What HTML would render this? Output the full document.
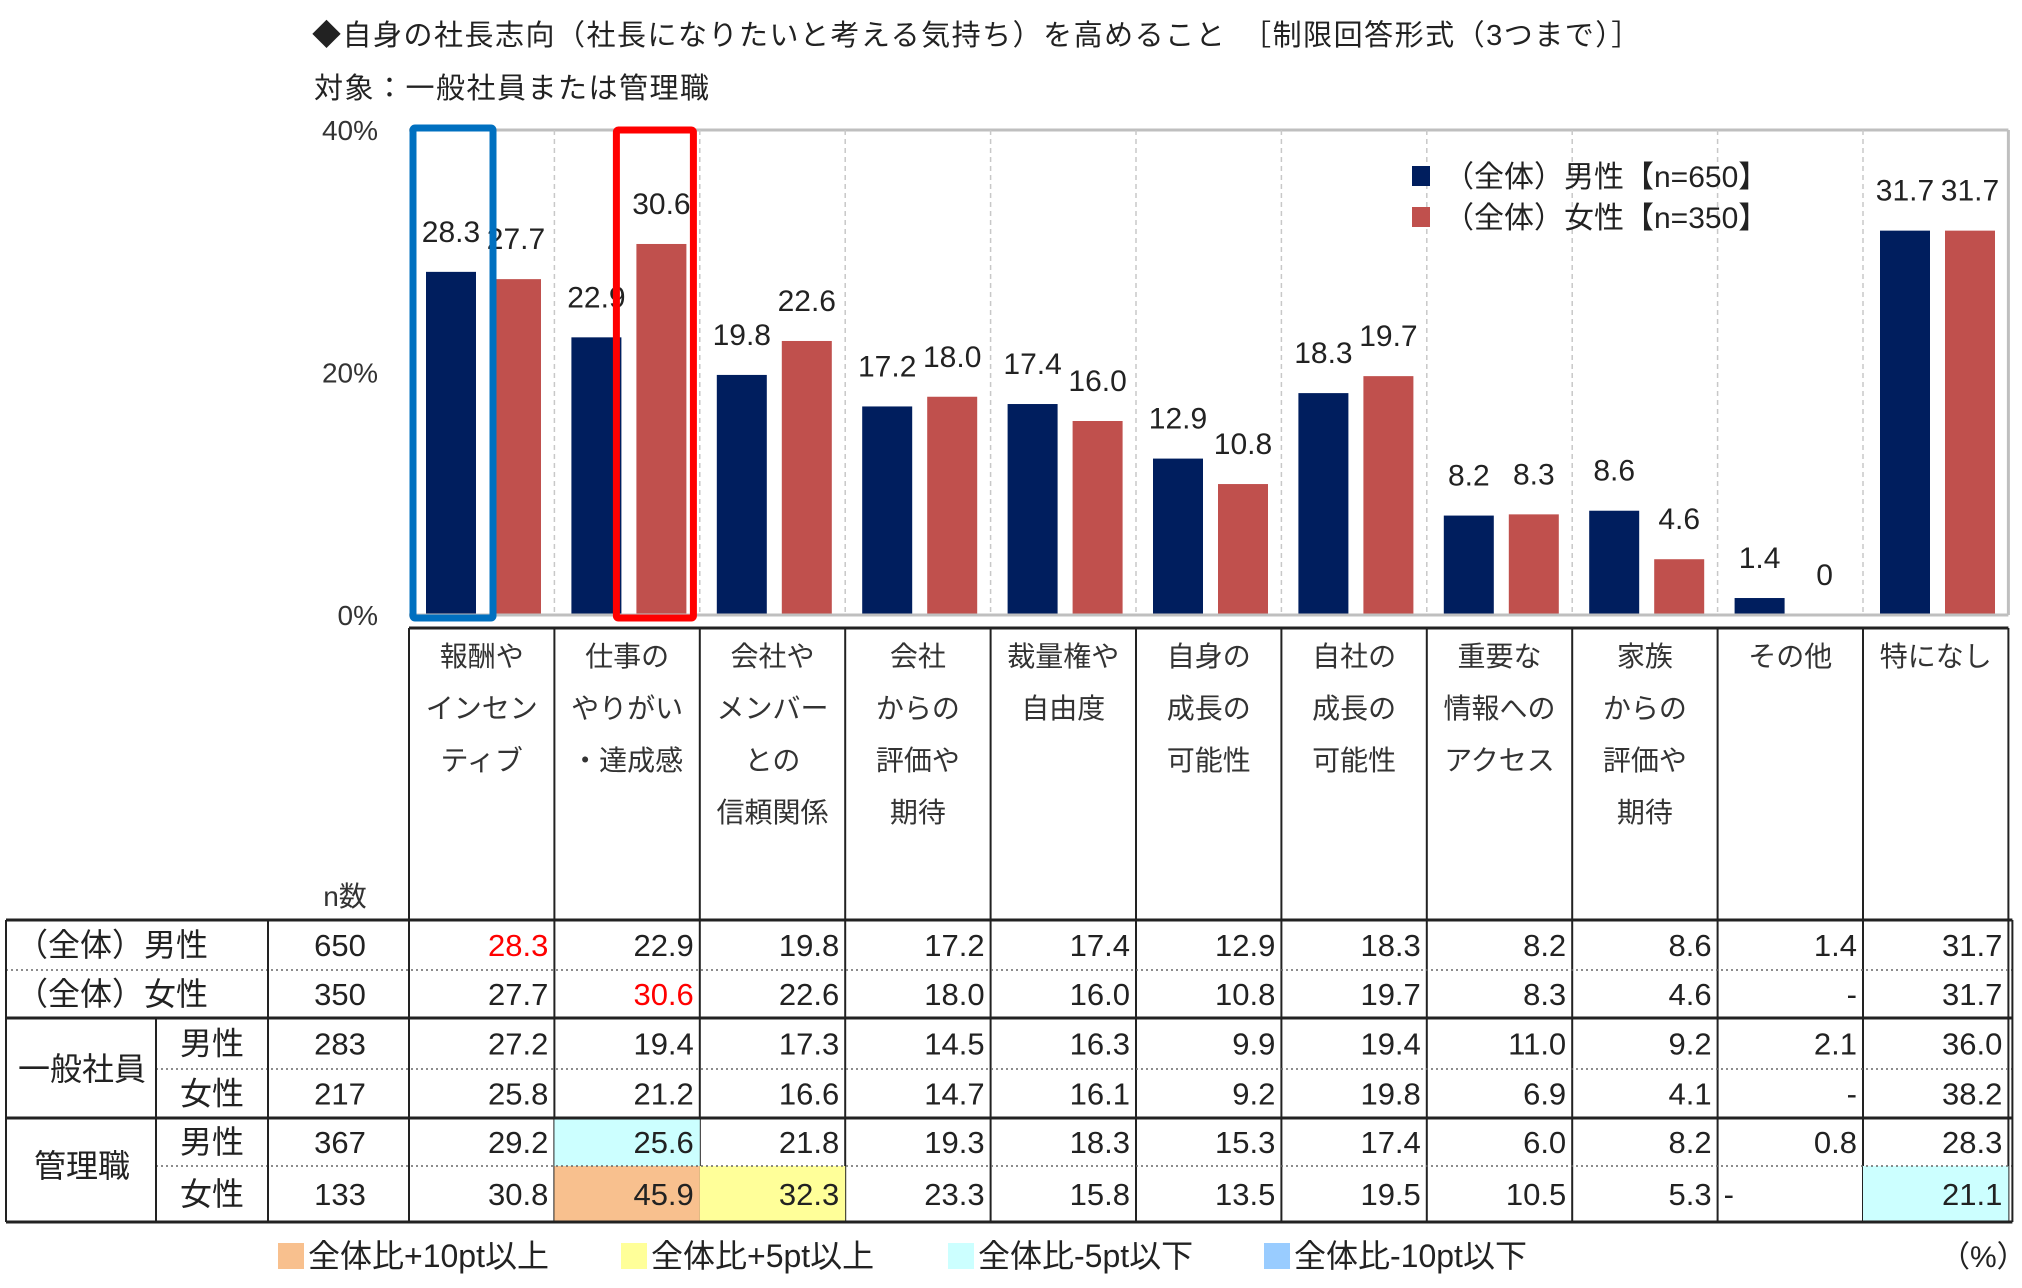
<!DOCTYPE html>
<html><head><meta charset="utf-8">
<style>
html,body{margin:0;padding:0;background:#fff;}
svg{display:block;font-family:"Liberation Sans","Noto Sans CJK JP",sans-serif;}
</style></head>
<body>
<svg id="chart" width="2022" height="1288" viewBox="0 0 2022 1288" xmlns="http://www.w3.org/2000/svg">
<text x="312" y="45" font-size="29" fill="#222" letter-spacing="1.5">◆自身の社長志向（社長になりたいと考える気持ち）を高めること　［制限回答形式（3つまで）］</text>
<text x="314" y="98" font-size="29" fill="#222" letter-spacing="1.5">対象：一般社員または管理職</text>
<g id="plot"></g>
<g id="table"></g>
</svg>
<script>
const categories = [["報酬や","インセン","ティブ"],["仕事の","やりがい","・達成感"],["会社や","メンバー","との","信頼関係"],["会社","からの","評価や","期待"],["裁量権や","自由度"],["自身の","成長の","可能性"],["自社の","成長の","可能性"],["重要な","情報への","アクセス"],["家族","からの","評価や","期待"],["その他"],["特になし"]];
const maleValues = [28.3,22.9,19.8,17.2,17.4,12.9,18.3,8.2,8.6,1.4,31.7];
const femaleValues = [27.7,30.6,22.6,18.0,16.0,10.8,19.7,8.3,4.6,0,31.7];
const yTicks = [0,20,40];
const yTickLabels = ["0%","20%","40%"];
const rowGroups = ["(全体)","(全体)","一般社員","一般社員","管理職","管理職"];
const rowGenders = ["男性","女性","男性","女性","男性","女性"];
const rowN = ["650","350","283","217","367","133"];
const tableValues = [
 ["28.3","22.9","19.8","17.2","17.4","12.9","18.3","8.2","8.6","1.4","31.7"],
 ["27.7","30.6","22.6","18.0","16.0","10.8","19.7","8.3","4.6","-","31.7"],
 ["27.2","19.4","17.3","14.5","16.3","9.9","19.4","11.0","9.2","2.1","36.0"],
 ["25.8","21.2","16.6","14.7","16.1","9.2","19.8","6.9","4.1","-","38.2"],
 ["29.2","25.6","21.8","19.3","18.3","15.3","17.4","6.0","8.2","0.8","28.3"],
 ["30.8","45.9","32.3","23.3","15.8","13.5","19.5","10.5","5.3","-","21.1"]];
const cellFills = {"4-1":"#ccffff","5-1":"#f8c08e","5-2":"#ffff99","5-10":"#ccffff"};
const redCells = {"0-0":1,"1-1":1};
const NS="http://www.w3.org/2000/svg";
function mk(parent,tag,attrs,text){const e=document.createElementNS(NS,tag);for(const k in attrs)e.setAttribute(k,attrs[k]);if(text!==undefined)e.textContent=text;parent.appendChild(e);return e;}
const X0=409, CW=145.4, XR=409+11*145.4, Y0=615, Y40=130;
const yScale=v=>Y0-(v/40)*(Y0-Y40);
const xCat=i=>X0+i*CW;
const plot=document.getElementById('plot');
let g=mk(plot,'line',{x1:X0,x2:XR,y1:yScale(40),y2:yScale(40),stroke:'#bfbfbf','stroke-width':3});


for(let i=1;i<categories.length;i++){
 const l=mk(plot,'line',{x1:xCat(i),x2:xCat(i),y1:yScale(40),y2:Y0,stroke:'#c8c8c8','stroke-width':1.5,'stroke-dasharray':'5,4'});
 
 
}
g=mk(plot,'line',{x1:XR,x2:XR,y1:yScale(40),y2:Y0,stroke:'#bfbfbf','stroke-width':3});


yTicks.forEach((t,i)=>{
 const tx=mk(plot,'text',{x:378,y:yScale(t)+10,'font-size':28,fill:'#333','text-anchor':'end'},yTickLabels[i]);
 
 
});
categories.forEach((c,i)=>{
 const mv=maleValues[i], fv=femaleValues[i];
 const mx=xCat(i)+17, fx=xCat(i)+82;
 const b1=mk(plot,'rect',{x:mx,y:yScale(mv),width:50,height:Y0-yScale(mv),fill:'#001e5e'});
 
 
 const b2=mk(plot,'rect',{x:fx,y:yScale(fv),width:50,height:Y0-yScale(fv),fill:'#c0504d'});
 
 
 const l1=mk(plot,'text',{x:mx+25,y:yScale(mv)-30,'font-size':30,fill:'#222','text-anchor':'middle'},mv.toFixed(1));
 
 
 const l2=mk(plot,'text',{x:fx+25,y:yScale(fv)-30,'font-size':30,fill:'#222','text-anchor':'middle'},fv===0?'0':fv.toFixed(1));
 
 
});
g=mk(plot,'line',{x1:X0,x2:XR,y1:Y0,y2:Y0,stroke:'#bfbfbf','stroke-width':3});


g=mk(plot,'rect',{x:xCat(0)+4,y:128,width:80,height:490,fill:'none',stroke:'#0070c0','stroke-width':7,rx:2});


g=mk(plot,'rect',{x:xCat(1)+62,y:130,width:77,height:488,fill:'none',stroke:'#ff0000','stroke-width':7,rx:2});


[["#001e5e","（全体）男性【n=650】",176],["#c0504d","（全体）女性【n=350】",217]].forEach(d=>{
 const r=mk(plot,'rect',{x:1412,y:d[2]-10,width:18,height:20,fill:d[0]});
 
 
 const t=mk(plot,'text',{x:1444,y:d[2]+11,'font-size':30,fill:'#222'},d[1]);
 
 
});
const tb=document.getElementById('table');
const rowY=[920,970,1018,1069,1118,1166,1222];
const TOP=628;
for(let i=0;i<=categories.length;i++){
 const l=mk(tb,'line',{x1:xCat(i),x2:xCat(i),y1:TOP,y2:1222,stroke:'#222','stroke-width':2});
 
 
}
g=mk(tb,'line',{x1:X0,x2:XR,y1:TOP,y2:TOP,stroke:'#222','stroke-width':3});


categories.forEach((c,i)=>{
 c.forEach((ln,j)=>{
  const t=mk(tb,'text',{x:xCat(i)+CW/2,y:666+j*52,'font-size':28,fill:'#333','text-anchor':'middle'},ln);
  
  
 });
});
g=mk(tb,'text',{x:345,y:906,'font-size':28,fill:'#333','text-anchor':'middle'},'n数');


for(const k in cellFills){const [r,c]=k.split('-').map(Number);
 const f=mk(tb,'rect',{x:xCat(c),y:rowY[r],width:CW,height:rowY[r+1]-rowY[r],fill:cellFills[k]});
 
 
}
rowY.forEach((y,i)=>{
 const solid=(i===0||i===2||i===4||i===6);
 const x1=(i===3||i===5)?156:6;
 const l=mk(tb,'line',{x1:x1,x2:XR+4,y1:y,y2:y,stroke:solid?'#222':'#666','stroke-width':solid?3:1.5,'stroke-dasharray':solid?'none':'2,3'});
 
 
});
[[6,920,1222],[156,1018,1222],[268,920,1222],[XR+4,920,1222]].forEach(v=>{
 const l=mk(tb,'line',{x1:v[0],x2:v[0],y1:v[1],y2:v[2],stroke:'#222','stroke-width':2});
 
 
});
for(let r=0;r<6;r++){
 const cy=(rowY[r]+rowY[r+1])/2+11;
 if(r<2){
  const t=mk(tb,'text',{x:16,y:cy,'font-size':32,fill:'#222'},'（全体）'+rowGenders[r]);
  
  
 } else {
  const t=mk(tb,'text',{x:212,y:cy,'font-size':32,fill:'#222','text-anchor':'middle'},rowGenders[r]);
  
  
  if(r%2===0){
   const gt=mk(tb,'text',{x:82,y:rowY[r+1]+11,'font-size':32,fill:'#222','text-anchor':'middle'},rowGroups[r]);
   
   
  }
 }
 const nt=mk(tb,'text',{x:340,y:cy,'font-size':31,fill:'#222','text-anchor':'middle'},rowN[r]);
 
 
 tableValues[r].forEach((v,c)=>{
  const left=(r===5&&v==='-');
  const t=mk(tb,'text',{x:left?xCat(c)+6:xCat(c+1)-6,y:cy,'font-size':31,fill:redCells[r+'-'+c]?'#ff0000':'#222','text-anchor':left?'start':'end'},v);
  
  
 });
}
[["#f8c08e","全体比+10pt以上",278],["#ffff99","全体比+5pt以上",621],["#ccffff","全体比-5pt以下",948],["#99ccff","全体比-10pt以下",1264]].forEach(d=>{
 const r=mk(tb,'rect',{x:d[2],y:1243,width:26,height:26,fill:d[0]});
 
 
 const t=mk(tb,'text',{x:d[2]+30,y:1267,'font-size':32,fill:'#222'},d[1]);
 
 
});
g=mk(tb,'text',{x:1940,y:1267,'font-size':30,fill:'#222'},'（%）');


</script>
</body></html>
